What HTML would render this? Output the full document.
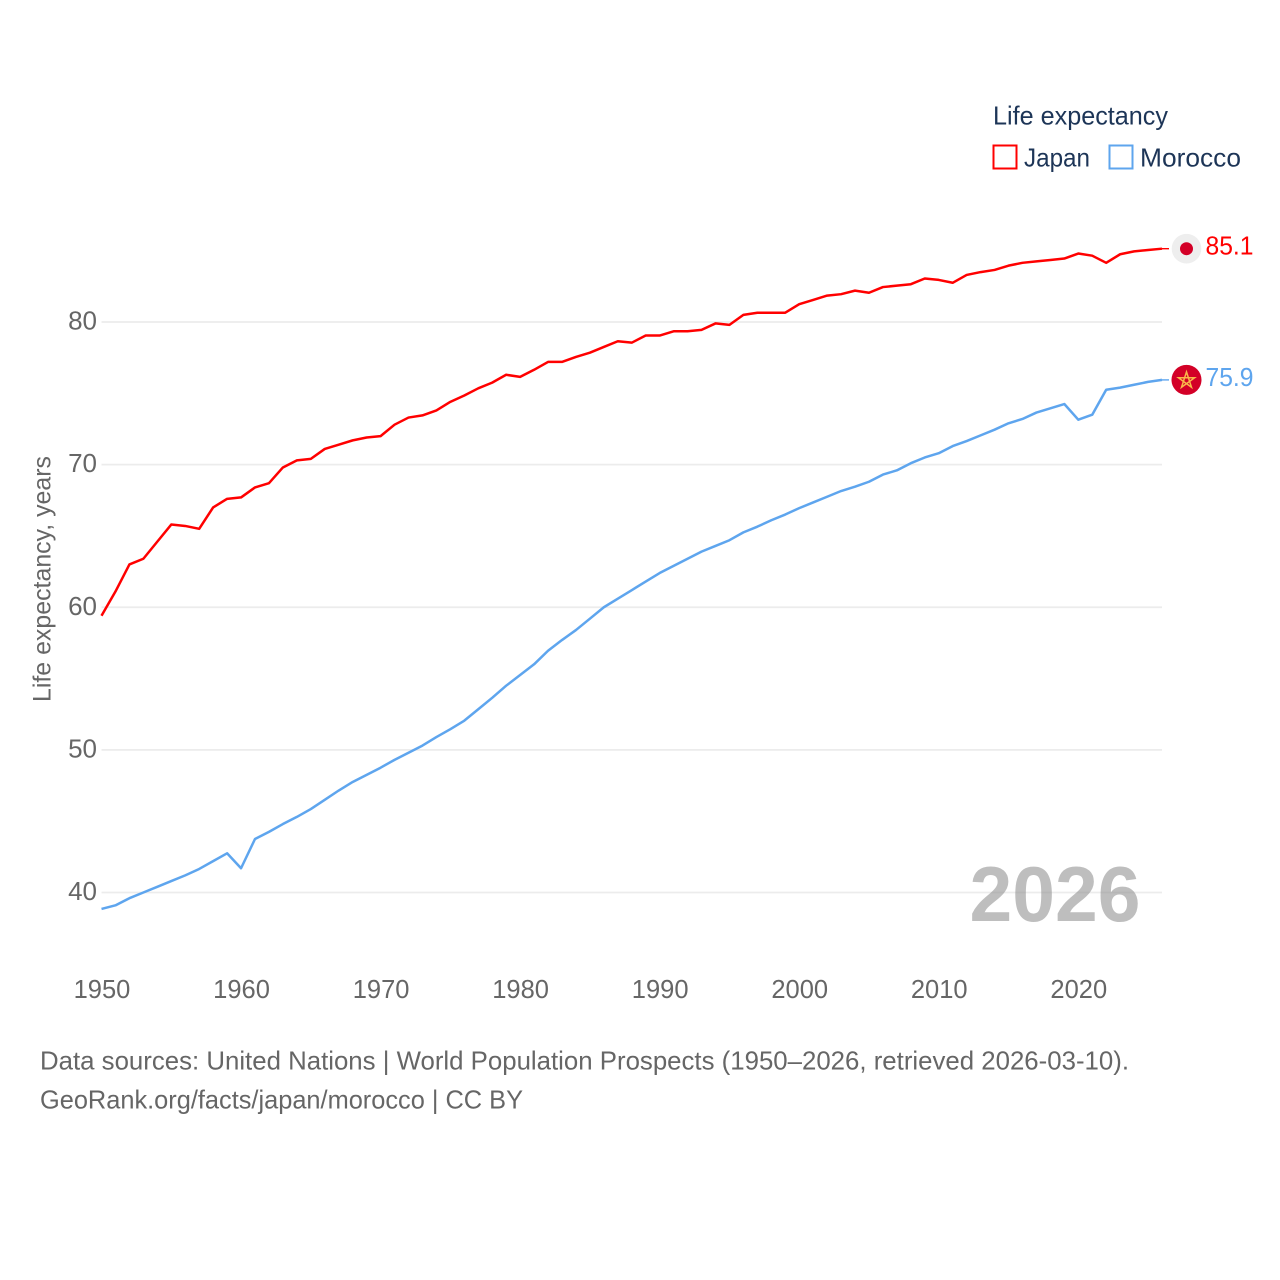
<!DOCTYPE html>
<html lang="en">
<head>
<meta charset="utf-8">
<title>Life expectancy: Japan and Morocco</title>
<style>
html,body{margin:0;padding:0;background:#fff;width:1280px;height:1280px;overflow:hidden}
svg{display:block;font-family:"Liberation Sans",sans-serif}
</style>
</head>
<body>
<svg id="chart" xmlns="http://www.w3.org/2000/svg" width="1280" height="1280" viewBox="0 0 1280 1280">
  <rect x="0" y="0" width="1280" height="1280" fill="#ffffff"/>
  <g id="grid"></g>
  <g id="yticks"></g>
  <g id="xticks"></g>
  <text transform="translate(50.5,702) rotate(-90)" font-size="25" fill="#666666" textLength="246" lengthAdjust="spacingAndGlyphs">Life expectancy, years</text>
  <text x="969.5" y="921" font-size="78" font-weight="700" fill="#8f8f8f" fill-opacity="0.58" textLength="171" lengthAdjust="spacingAndGlyphs">2026</text>
  <g id="series"></g>
  <g id="markers"></g>
  <g>
    <text x="993" y="124.5" font-size="26" fill="#1d3557" textLength="175" lengthAdjust="spacingAndGlyphs">Life expectancy</text>
    <rect x="993.5" y="145.5" width="23" height="23" fill="#ffffff" stroke="#ff0000" stroke-width="2"/>
    <text x="1024" y="166.5" font-size="26" fill="#1d3557" textLength="66" lengthAdjust="spacingAndGlyphs">Japan</text>
    <rect x="1109.5" y="145.5" width="23" height="23" fill="#ffffff" stroke="#5ea5ee" stroke-width="2"/>
    <text x="1140" y="166.5" font-size="26" fill="#1d3557" textLength="101" lengthAdjust="spacingAndGlyphs">Morocco</text>
  </g>
  <text x="40" y="1069.5" font-size="26" fill="#666666" textLength="1089" lengthAdjust="spacingAndGlyphs">Data sources: United Nations | World Population Prospects (1950–2026, retrieved 2026-03-10).</text>
  <text x="40" y="1108.5" font-size="26" fill="#666666" textLength="483" lengthAdjust="spacingAndGlyphs">GeoRank.org/facts/japan/morocco | CC BY</text>
</svg>
<script>
const startYear = 1950;
const japanValues = [59.4,61.1,63.0,63.4,64.6,65.8,65.7,65.5,67.0,67.6,67.7,68.4,68.7,69.8,70.3,70.4,71.1,71.4,71.7,71.9,72.0,72.8,73.3,73.45,73.8,74.4,74.85,75.35,75.75,76.3,76.15,76.65,77.2,77.2,77.55,77.85,78.25,78.65,78.55,79.05,79.05,79.35,79.35,79.45,79.9,79.8,80.5,80.65,80.65,80.65,81.25,81.55,81.85,81.95,82.2,82.05,82.45,82.55,82.65,83.05,82.95,82.75,83.3,83.5,83.65,83.95,84.15,84.25,84.35,84.45,84.8,84.65,84.15,84.75,84.95,85.05,85.14];
const moroccoValues = [38.85,39.1,39.6,40.0,40.4,40.8,41.2,41.65,42.2,42.75,41.7,43.75,44.25,44.8,45.3,45.85,46.5,47.15,47.75,48.25,48.75,49.3,49.8,50.3,50.9,51.45,52.05,52.85,53.65,54.5,55.25,56.0,56.95,57.7,58.4,59.2,60.0,60.6,61.2,61.8,62.4,62.9,63.4,63.9,64.3,64.7,65.25,65.65,66.1,66.5,66.95,67.35,67.75,68.15,68.45,68.8,69.3,69.6,70.1,70.5,70.8,71.3,71.65,72.05,72.45,72.9,73.2,73.65,73.95,74.25,73.15,73.5,75.25,75.4,75.6,75.8,75.94];
const yTickValues = [40,50,60,70,80];
const xTickValues = [1950,1960,1970,1980,1990,2000,2010,2020];

const NS = 'http://www.w3.org/2000/svg';
function xScale(year){ return 101.5 + (year - 1950) * (1162 - 101.5) / 76; }
function yScale(v){ return 892.5 - (v - 40) * (892.5 - 322) / 40; }
function make(tag, attrs, parent){
  const el = document.createElementNS(NS, tag);
  for (const k in attrs) el.setAttribute(k, attrs[k]);
  parent.appendChild(el);
  return el;
}
const gridG = document.getElementById('grid');
const yG = document.getElementById('yticks');
const xG = document.getElementById('xticks');
const seriesG = document.getElementById('series');
const markersG = document.getElementById('markers');

yTickValues.forEach(function(v){
  const line = make('line', {x1:101.5, x2:1162, y1:yScale(v), y2:yScale(v), stroke:'#ececec', 'stroke-width':1.8}, gridG);
  
  
  const t = make('text', {x:97, y:yScale(v)+7.5, 'text-anchor':'end', 'font-size':26, fill:'#666666'}, yG);
  
  
  t.textContent = String(v);
});
xTickValues.forEach(function(yr){
  const t = make('text', {x:xScale(yr)+0.5, y:998, 'text-anchor':'middle', 'font-size':25.5, fill:'#666666'}, xG);
  
  
  t.textContent = String(yr);
});

function drawSeries(values, color, key){
  const pts = values.map(function(v, i){ return xScale(startYear + i).toFixed(2) + ',' + yScale(v).toFixed(2); }).join(' ');
  const line = make('polyline', {points:pts, fill:'none', stroke:color, 'stroke-width':2.5, 'stroke-linejoin':'round'}, seriesG);
  
  
  const last = values[values.length - 1];
  const ly = yScale(last);
  const conn = make('line', {x1:1162, x2:1169, y1:ly, y2:ly, stroke:color, 'stroke-width':1.4}, seriesG);
  
  
  const label = make('text', {x:1205.5, y:ly+6, 'font-size':25.5, fill:color, textLength:48, lengthAdjust:'spacingAndGlyphs'}, markersG);
  
  
  label.textContent = last.toFixed(1);
  return ly;
}
const jy = drawSeries(japanValues, '#ff0000', 'japan');
const my = drawSeries(moroccoValues, '#5ea5ee', 'morocco');

const jBg = make('circle', {cx:1186.5, cy:jy, r:14.8, fill:'#eeeeee'}, markersG);


const jDot = make('circle', {cx:1186.5, cy:jy, r:6.5, fill:'#d30027'}, markersG);


const mBg = make('circle', {cx:1186.5, cy:my, r:15, fill:'#d30027'}, markersG);


const starPts = [0,2,4,1,3].map(function(n){
  const a = -Math.PI/2 + n * 2 * Math.PI / 5;
  return (1186.5 + 8.5*Math.cos(a)).toFixed(2) + ',' + (my + 0.5 + 8.5*Math.sin(a)).toFixed(2);
}).join(' ');
const star = make('polygon', {points:starPts, fill:'none', stroke:'#f9b64a', 'stroke-width':1.5, 'stroke-linejoin':'miter'}, markersG);


</script>
</body>
</html>
